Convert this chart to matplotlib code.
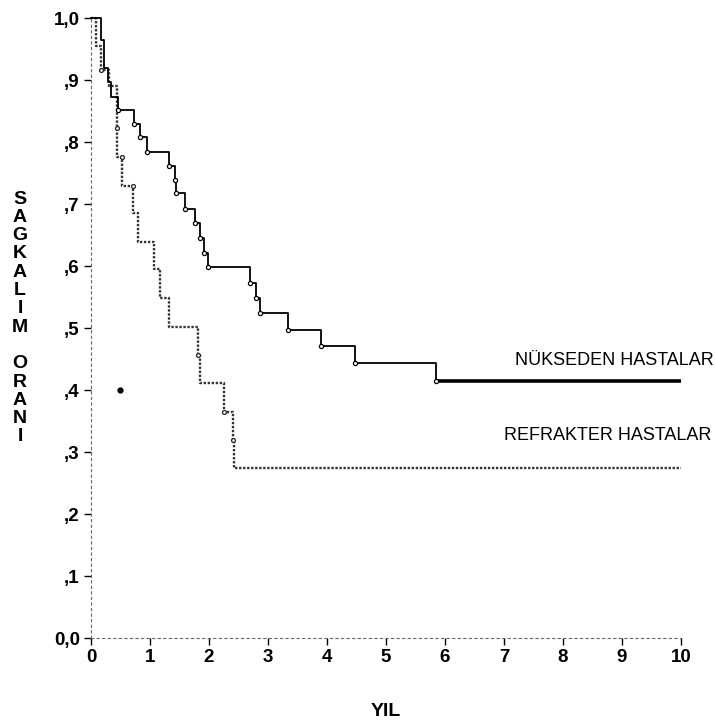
import matplotlib
matplotlib.use("Agg")
import matplotlib.pyplot as plt

plt.rcParams['font.family'] = ['Liberation Sans', 'DejaVu Sans']

# NÜKSEDEN HASTALAR (relapsed) - step times and survival after each step
nuks_t = [0, 0.17, 0.22, 0.28, 0.34, 0.45, 0.73, 0.83, 0.95, 1.32, 1.43, 1.44,
          1.60, 1.77, 1.84, 1.92, 1.99, 2.70, 2.80, 2.87, 3.34, 3.90, 4.48, 5.84]
nuks_s = [1.0, 0.965, 0.92, 0.897, 0.873, 0.852, 0.829, 0.808, 0.784, 0.761, 0.739, 0.718,
          0.692, 0.669, 0.645, 0.621, 0.598, 0.573, 0.548, 0.524, 0.497, 0.471, 0.444, 0.415]

# REFRAKTER HASTALAR (refractory)
refr_t = [0, 0.09, 0.17, 0.30, 0.44, 0.52, 0.72, 0.79, 1.07, 1.17, 1.33,
          1.82, 1.84, 2.26, 2.41, 2.42]
refr_s = [1.0, 0.955, 0.916, 0.89, 0.776, 0.729, 0.685, 0.638, 0.595, 0.548, 0.501,
          0.456, 0.411, 0.364, 0.319, 0.274]
# censor marks visible on the refractory curve
refr_mark_t = [0.17, 0.44, 0.52, 0.72, 1.82, 2.26, 2.41]
refr_mark_s = [0.916, 0.823, 0.776, 0.729, 0.456, 0.364, 0.319]

x_end = 10
x_ticks = list(range(0, 11))
y_ticks = [0.0, 0.1, 0.2, 0.3, 0.4, 0.5, 0.6, 0.7, 0.8, 0.9, 1.0]
y_ticklabels = ["0,0", ",1", ",2", ",3", ",4", ",5", ",6", ",7", ",8", ",9", "1,0"]
stray_dot = (0.49, 0.40)


def plot_curves(ax):
    # refractory: dotted
    ax.step(refr_t + [x_end], refr_s + [refr_s[-1]], where="post",
            color="#333333", lw=1.7, ls=(0, (1, 0.7)), clip_on=False)
    ax.plot(refr_mark_t, refr_mark_s, ls="none", marker="o", ms=2.8,
            mfc="white", mec="#222222", mew=0.9, clip_on=False)
    # relapsed: solid, last segment thick
    ax.step(nuks_t, nuks_s, where="post", color="black", lw=1.3, clip_on=False)
    ax.plot([nuks_t[-1], x_end], [nuks_s[-1], nuks_s[-1]], color="black", lw=2.6,
            solid_capstyle="butt")
    ax.plot(nuks_t[5:], nuks_s[5:], ls="none", marker="o", ms=3.0,
            mfc="white", mec="black", mew=0.9, clip_on=False)
    ax.plot([stray_dot[0]], [stray_dot[1]], "o", color="black", ms=3.5)


def main():
    fig = plt.figure(figsize=(7.15, 7.27), dpi=100)
    ax = fig.add_axes([91 / 715, 1 - 638 / 727, 590 / 715, 620 / 727])
    plot_curves(ax)

    ax.set_xlim(0, 10)
    ax.set_ylim(0, 1.0)
    for side in ["top", "right"]:
        ax.spines[side].set_visible(False)
    for side in ["left", "bottom"]:
        ax.spines[side].set_linestyle((0, (2, 3)))
        ax.spines[side].set_color("#666666")
        ax.spines[side].set_linewidth(0.8)

    ax.set_xticks(x_ticks)
    ax.set_xticklabels([str(v) for v in x_ticks], fontsize=13.5, fontweight="bold")
    ax.set_yticks(y_ticks)
    ax.set_yticklabels(y_ticklabels, fontsize=13.5, fontweight="bold")
    ax.tick_params(axis="both", direction="out", length=5, width=1, color="black", pad=3)

    ax.text(10.55, 0.448, "NÜKSEDEN HASTALAR", ha="right", va="center",
            fontsize=13, clip_on=False)
    ax.text(10.52, 0.326, "REFRAKTER HASTALAR", ha="right", va="center",
            fontsize=13, clip_on=False)

    fig.text(386 / 715, 1 - 712 / 727, "YIL", ha="center", va="center",
             fontsize=14, fontweight="bold")
    ylab = "\n".join(list("SAGKALIM")) + "\n\n" + "\n".join(list("ORANI"))
    fig.text(20 / 715, 1 - 318 / 727, ylab, ha="center", va="center",
             fontsize=14, fontweight="bold", linespacing=1.1)

    fig.savefig("out.png", dpi=100)


if __name__ == "__main__":
    main()
